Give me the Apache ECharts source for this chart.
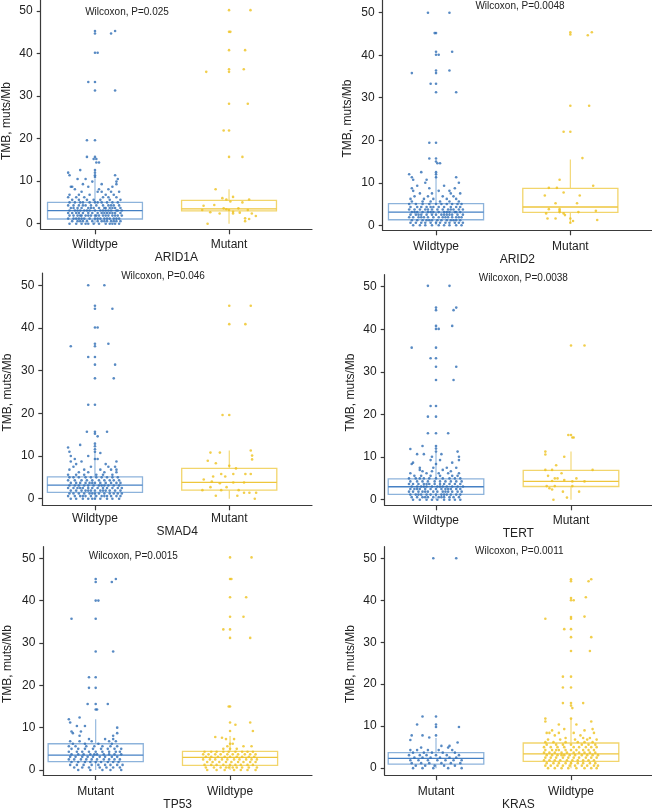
<!DOCTYPE html>
<html>
<head>
<meta charset="utf-8">
<script src="https://cdn.jsdelivr.net/npm/echarts@6/dist/echarts.min.js"></script>
<style>
html,body{margin:0;padding:0;background:#fff;}
#c{width:652px;height:812px;}
</style>
</head>
<body>
<div id="c"></div>
<script>
// ---------------- DATA ----------------
const genes = ['ARID1A', 'ARID2', 'SMAD4', 'TERT', 'TP53', 'KRAS'];
const groupLabels = [
  ['Wildtype', 'Mutant'], ['Wildtype', 'Mutant'], ['Wildtype', 'Mutant'],
  ['Wildtype', 'Mutant'], ['Mutant', 'Wildtype'], ['Mutant', 'Wildtype']
];
const pValues = ['0.025', '0.0048', '0.046', '0.0038', '0.0015', '0.0011'];
const yTicks = [0, 10, 20, 30, 40, 50];
const yTitle = 'TMB, muts/Mb';

// box stats per group: [lower whisker, Q1, median, Q3, upper whisker]
const arid1aBox = [[0, 1.1, 3.05, 5.0, 10.6], [0, 3.0, 3.5, 5.5, 8.1]];
const arid2Box  = [[0, 1.3, 3.1, 5.1, 12.0], [0.6, 3.05, 4.3, 8.7, 15.5]];
const smad4Box  = [[0, 1.5, 3.2, 5.1, 11.0], [0, 2.0, 3.8, 7.1, 11.3]];
const tertBox   = [[0, 1.25, 3.05, 4.9, 11.0], [0, 3.1, 4.3, 6.9, 11.3]];
const tp53Box   = [[0, 2.0, 3.5, 6.2, 12.0], [0, 1.1, 3.0, 4.4, 8.0]];
const krasBox   = [[0, 0.95, 2.35, 3.7, 7.2], [0, 1.6, 3.4, 6.0, 11.8]];

const arid1aWt = [
  [45.3, 0, 0.15], [44.7, 0, 0.12], [40.2, 0, 0.02], [33.3, -0.05, 0], [31.3, 0, 0.15],
  [19.6, -0.06, 0], [15.7, -0.06, 0], [15.2, -0.01, 0.01], [14.4, 0.01, 0.03],
  [12.6, 0, -0.11], [12.0, -0.2, 0], [11.4, -0.19, 0.15, 0], [11.0, 0],
  [10.5, -0.13, -0.07, 0.17], [9.9, 0.16, -0.02], [9.3, -0.09, 0.16, 0.05],
  [8.7, -0.18, -0.17, -0.05, 0.13], [8.1, -0.15, 0.03, 0.1],
  [7.5, -0.1, 0.02, 0.05, 0.12, 0.18], [6.8, -0.19, -0.12, -0.04, 0.08, 0.14],
  [6.2, -0.2, -0.08, 0.06, 0.1, 0.16, -0.14], [5.6, -0.17, -0.06, -0.01, 0.04, 0.11, 0.19, -0.12],
  [5.0, -0.19, -0.15, -0.09, -0.04, 0.0, 0.05, 0.09, 0.13, 0.17, -0.11, 0.02],
  [4.3, -0.2, -0.16, -0.12, -0.07, -0.03, 0.01, 0.06, 0.1, 0.14, 0.18, -0.09, 0.12],
  [3.7, -0.18, -0.13, -0.1, -0.05, -0.01, 0.03, 0.07, 0.11, 0.15, 0.19, -0.16, 0.08, 0.13, -0.03],
  [3.1, -0.19, -0.15, -0.11, -0.08, -0.04, 0.0, 0.04, 0.08, 0.12, 0.16, 0.2, -0.13, -0.06, 0.06, 0.1, 0.17],
  [2.5, -0.2, -0.17, -0.12, -0.09, -0.05, -0.02, 0.02, 0.05, 0.09, 0.13, 0.15, 0.19, -0.14, 0.07, 0.11],
  [1.9, -0.19, -0.16, -0.13, -0.1, -0.07, -0.03, 0.0, 0.03, 0.06, 0.1, 0.13, 0.17, 0.2, -0.05, 0.08, 0.15, -0.11, 0.01],
  [1.2, -0.2, -0.16, -0.12, -0.08, -0.04, 0.0, 0.04, 0.07, 0.11, 0.14, 0.18, -0.1, 0.02, 0.09, 0.16, -0.14],
  [0.6, -0.17, -0.13, -0.09, -0.06, -0.02, 0.02, 0.05, 0.09, 0.12, 0.16, 0.19, -0.11, 0.07, 0.14],
  [0.0, -0.19, -0.14, -0.1, -0.05, -0.01, 0.03, 0.08, 0.11, 0.15, 0.18, -0.07, 0.13]
];
const arid1aMut = [
  [50.2, 0, 0.16], [45.1, 0, 0.01], [40.8, 0, 0.12], [36.3, 0, 0.11], [35.7, -0.17, 0],
  [28.2, 0, 0.14], [21.9, -0.04, 0], [15.7, 0, 0.1], [8.1, -0.1], [6.3, 0.03], [6.0, -0.05],
  [5.7, -0.02, 0.15], [5.2, 0.01], [5.0, 0.1], [4.4, -0.11], [4.2, -0.19], [3.6, -0.04, 0.07],
  [3.4, -0.02], [3.2, 0.0, -0.2, 0.14], [2.8, 0.03], [2.7, -0.14], [2.6, 0.08],
  [2.4, -0.07, 0.17, 0.03], [1.8, 0.2], [1.25, 0.12], [1.1, 0.15], [0.6, 0.12], [0.0, -0.16]
];
const arid2Wt = [
  [50.0, -0.06, 0.1], [45.2, 0, -0.01], [40.8, 0, 0.12], [40.1, 0, 0.02], [36.4, 0, 0.1],
  [35.8, -0.18, 0], [33.3, -0.04, 0], [31.3, 0, 0.15], [19.4, -0.05, 0], [15.7, -0.05, 0],
  [15.0, 0], [14.6, 0.01, 0.03], [12.5, -0.11, 0], [12.0, -0.2, 0], [11.3, -0.18, 0.15, 0],
  [10.7, -0.17, -0.07], [10.0, 0.17, -0.08], [9.3, -0.14, 0.06], [8.7, -0.18, -0.05, 0.14],
  [8.1, -0.17, 0.02, 0.1], [7.5, -0.12, -0.03, 0.11, 0.18], [6.8, -0.16, -0.06, 0.05, 0.13],
  [6.2, -0.19, -0.09, -0.02, 0.08, 0.15], [5.6, -0.18, -0.1, -0.04, 0.03, 0.1, 0.17],
  [5.0, -0.2, -0.15, -0.1, -0.05, 0.0, 0.04, 0.08, 0.12, 0.16, 0.19],
  [4.3, -0.19, -0.14, -0.11, -0.07, -0.02, 0.02, 0.06, 0.11, 0.15, 0.18, -0.04],
  [3.7, -0.2, -0.16, -0.12, -0.08, -0.03, 0.01, 0.05, 0.09, 0.13, 0.17, 0.2, -0.06, 0.11],
  [3.1, -0.18, -0.14, -0.1, -0.06, -0.02, 0.02, 0.06, 0.1, 0.14, 0.18, -0.16, -0.04, 0.08, 0.15],
  [2.5, -0.19, -0.15, -0.11, -0.07, -0.03, 0.0, 0.04, 0.08, 0.12, 0.16, 0.2, -0.13, 0.06, 0.1],
  [1.9, -0.2, -0.17, -0.13, -0.09, -0.06, -0.02, 0.02, 0.05, 0.09, 0.12, 0.15, 0.19, -0.11, 0.07, 0.17],
  [1.2, -0.18, -0.14, -0.1, -0.07, -0.03, 0.01, 0.04, 0.08, 0.11, 0.15, 0.18, -0.05, 0.13],
  [0.6, -0.19, -0.15, -0.11, -0.08, -0.04, 0.0, 0.03, 0.07, 0.1, 0.14, 0.17, 0.2],
  [0.0, -0.17, -0.12, -0.08, -0.03, 0.02, 0.06, 0.1, 0.15, 0.19]
];
const arid2Mut = [
  [45.4, 0, 0.16], [44.9, 0], [44.7, 0.13], [28.1, 0, 0.14], [22.0, -0.05, 0], [15.8, 0.09],
  [10.7, -0.08], [9.3, 0.17], [8.8, -0.16, -0.1], [7.7, -0.05], [7.0, -0.19, 0.07],
  [5.2, -0.11, 0.05], [3.8, -0.16, -0.08], [3.4, -0.08, 0.19], [3.1, 0.06, -0.08],
  [2.8, -0.18, -0.05], [2.4, -0.04], [1.6, -0.17, -0.11, 0.0], [1.25, 0.2], [1.0, 0.02], [0.6, 0.0]
];
const smad4Wt = [
  [50.0, -0.05, 0.07], [45.2, 0], [44.5, 0, 0.13], [40.1, 0, 0.02], [36.3, 0, 0.1],
  [35.7, -0.18, 0], [33.2, -0.05, 0], [31.4, 0, 0.15], [28.2, 0, 0.14], [22.0, -0.05, 0],
  [15.7, -0.06, 0, 0.09], [15.2, 0], [14.6, 0.02], [12.9, 0], [12.6, -0.11], [12.3, 0],
  [12.0, -0.2], [11.6, 0], [11.0, -0.19, 0], [10.7, 0.04], [10.0, -0.05, -0.18],
  [9.3, -0.15, 0.0, 0.02], [8.7, -0.18, -0.1, 0.16], [8.1, -0.14, 0.08],
  [7.5, -0.16, -0.03, 0.1, 0.15], [6.8, -0.19, -0.08, 0.04, 0.12, 0.16], [6.2, -0.12, -0.05, 0.07, 0.16],
  [5.6, -0.2, -0.14, -0.08, 0.01, 0.06, 0.13],
  [5.0, -0.19, -0.16, -0.12, -0.07, -0.03, 0.01, 0.05, 0.09, 0.13, 0.17],
  [4.3, -0.2, -0.15, -0.1, -0.06, -0.02, 0.03, 0.07, 0.11, 0.14, 0.18],
  [3.7, -0.18, -0.14, -0.11, -0.07, -0.04, 0.0, 0.04, 0.08, 0.12, 0.16, 0.19, -0.02],
  [3.1, -0.19, -0.15, -0.12, -0.08, -0.05, -0.01, 0.03, 0.07, 0.1, 0.14, 0.18, 0.05],
  [2.5, -0.2, -0.16, -0.13, -0.09, -0.05, -0.02, 0.02, 0.06, 0.09, 0.13, 0.17, 0.2, -0.11],
  [1.9, -0.18, -0.14, -0.1, -0.07, -0.03, 0.0, 0.04, 0.08, 0.11, 0.15, 0.19, -0.05, 0.06],
  [1.2, -0.19, -0.16, -0.12, -0.08, -0.04, 0.0, 0.03, 0.07, 0.11, 0.14, 0.17, 0.2, -0.02],
  [0.6, -0.2, -0.15, -0.11, -0.07, -0.03, 0.01, 0.05, 0.09, 0.12, 0.16, 0.19, -0.09, 0.07],
  [0.0, -0.18, -0.14, -0.09, -0.05, 0.0, 0.04, 0.09, 0.13, 0.18, -0.02]
];
const smad4Mut = [
  [45.2, 0, 0.16], [40.9, 0, 0.12], [19.6, -0.05, 0], [11.3, 0.16], [10.8, -0.14, -0.07],
  [10.1, 0.17], [9.2, 0.17], [8.9, -0.16], [8.3, -0.1], [7.7, 0], [7.1, 0.05],
  [5.8, -0.06, 0.03, 0.12, 0.16], [5.2, -0.12, -0.03], [4.5, -0.19], [4.0, -0.13],
  [3.8, 0.03, 0.11], [3.6, -0.07], [2.7, -0.14, -0.02], [2.0, -0.2, -0.06, 0.07],
  [1.4, 0.11, 0.15, 0.2], [0.7, -0.1, 0.06], [0.0, 0.19]
];
const tertWt = [
  [50.2, -0.06, 0.1], [45.1, 0, 0.15], [44.5, 0, 0.13], [40.8, 0, 0.12], [40.1, 0, 0.02],
  [35.7, -0.18, 0], [33.2, -0.04, 0], [31.2, 0, 0.15], [28.1, 0, 0.13], [22.0, -0.04, 0],
  [19.5, -0.06, 0], [15.6, -0.06, 0, 0.09], [12.6, -0.1, 0], [12.0, 0], [11.9, -0.19],
  [11.3, 0.16, 0], [10.7, -0.14, -0.09, 0.04], [10.1, 0.17, -0.03], [9.3, 0.17, -0.04, 0.03],
  [8.7, -0.17, 0.12], [8.4, -0.18, 0.0], [7.5, -0.12, -0.02, 0.08, 0.15], [7.0, -0.12, 0.05],
  [6.7, -0.1, 0.11, -0.03], [6.2, -0.19, -0.07, 0.02, 0.09, 0.17],
  [5.6, -0.16, -0.11, -0.04, 0.03, 0.12, 0.16],
  [5.0, -0.2, -0.15, -0.09, -0.05, 0.0, 0.05, 0.1, 0.14, 0.18, -0.12],
  [4.3, -0.19, -0.14, -0.1, -0.06, -0.01, 0.03, 0.07, 0.11, 0.15, 0.19],
  [3.7, -0.2, -0.17, -0.13, -0.09, -0.05, -0.01, 0.03, 0.06, 0.1, 0.14, 0.18, -0.07],
  [3.1, -0.18, -0.14, -0.11, -0.07, -0.03, 0.01, 0.05, 0.08, 0.12, 0.16, 0.2, -0.09, 0.03],
  [2.5, -0.19, -0.16, -0.12, -0.08, -0.04, 0.0, 0.04, 0.07, 0.11, 0.15, 0.18, -0.14, 0.09],
  [1.9, -0.2, -0.17, -0.13, -0.1, -0.06, -0.02, 0.01, 0.05, 0.09, 0.12, 0.16, 0.19, -0.08, 0.07],
  [1.2, -0.19, -0.15, -0.11, -0.07, -0.04, 0.0, 0.04, 0.08, 0.11, 0.15, 0.18, -0.13, 0.06],
  [0.6, -0.18, -0.14, -0.1, -0.06, -0.02, 0.02, 0.06, 0.1, 0.13, 0.17, -0.08, 0.04],
  [0.0, -0.17, -0.12, -0.07, -0.03, 0.01, 0.06, 0.1, 0.14, 0.18]
];
const tertMut = [
  [36.2, 0, 0.1], [15.2, -0.02, 0], [14.6, 0.01, 0.02], [11.3, -0.19], [10.6, -0.19],
  [10.1, -0.05], [8.1, -0.11], [7.0, -0.19, -0.14, 0.16], [6.2, -0.07], [5.6, -0.17],
  [5.0, -0.12, 0.04, -0.1], [4.6, -0.05], [4.4, -0.14], [4.3, 0.01, 0.1],
  [3.2, -0.18, -0.12, 0.01], [2.7, -0.16], [2.4, -0.14], [1.9, -0.06, 0.06], [0.5, -0.03], [0.0, -0.13]
];
const tp53Mut = [
  [45.1, 0, 0.15], [44.4, 0, 0.12], [40.0, 0, 0.02], [35.7, -0.18, 0], [28.0, 0, 0.13],
  [21.9, -0.05, 0], [19.4, -0.05, 0], [15.6, -0.06, 0, 0.09], [14.3, 0, 0.01],
  [12.4, -0.12], [12.0, -0.2], [11.2, -0.19], [10.4, -0.14, -0.08], [10.0, 0.16],
  [9.1, -0.11, -0.18], [8.7, -0.17, 0.16], [8.1, -0.12, 0.13], [7.3, 0.07, 0.13, -0.05],
  [6.8, -0.19, -0.12, -0.03, 0.1, 0.15], [6.2, -0.17, -0.08, 0.02, 0.12],
  [5.6, -0.2, -0.15, -0.07, -0.01, 0.05, 0.11, 0.16],
  [5.0, -0.18, -0.13, -0.08, -0.02, 0.04, 0.09, 0.14, 0.19],
  [4.3, -0.2, -0.14, -0.1, -0.05, 0.0, 0.05, 0.1, 0.15, 0.18],
  [3.7, -0.18, -0.13, -0.09, -0.04, 0.01, 0.06, 0.1, 0.14, 0.19, -0.01],
  [3.1, -0.19, -0.15, -0.1, -0.06, -0.02, 0.03, 0.07, 0.12, 0.16],
  [2.5, -0.2, -0.16, -0.11, -0.07, -0.03, 0.01, 0.06, 0.1, 0.14, 0.18],
  [1.9, -0.18, -0.13, -0.08, -0.04, 0.0, 0.04, 0.09, 0.13, 0.17],
  [1.2, -0.19, -0.14, -0.09, -0.03, 0.02, 0.07, 0.11, 0.16, 0.2],
  [0.6, -0.16, -0.1, -0.05, 0.03, 0.08, 0.13, 0.18],
  [0.0, -0.13, -0.04, 0.05, 0.11, 0.19]
];
const tp53Wt = [
  [50.2, 0, 0.16], [45.1, 0, 0.01], [40.8, 0, 0.12], [36.2, 0, 0.1], [33.2, -0.05, 0],
  [31.2, 0, 0.15], [15.0, -0.01, 0], [11.2, 0, 0.15], [10.7, 0.04], [9.2, 0, 0.17],
  [7.8, -0.11], [7.6, -0.06], [7.3, -0.03, 0.03], [6.2, 0.0, 0.02], [5.6, -0.02, 0.1, 0.16],
  [5.0, -0.05, 0.0, 0.05],
  [4.3, -0.19, -0.14, -0.1, -0.05, -0.01, 0.04, 0.09, 0.13, 0.17],
  [3.7, -0.2, -0.16, -0.11, -0.07, -0.02, 0.02, 0.06, 0.11, 0.15, 0.19],
  [3.1, -0.18, -0.14, -0.09, -0.04, 0.0, 0.05, 0.09, 0.14, 0.18],
  [2.5, -0.2, -0.15, -0.11, -0.06, -0.02, 0.03, 0.07, 0.12, 0.16, 0.2],
  [1.9, -0.17, -0.13, -0.08, -0.03, 0.01, 0.06, 0.1, 0.15, 0.19],
  [1.2, -0.19, -0.14, -0.1, -0.05, 0.0, 0.04, 0.08, 0.13, 0.17],
  [0.6, -0.18, -0.12, -0.07, -0.03, -0.01, 0.02, 0.05, 0.09, 0.14, 0.2],
  [0.0, -0.17, -0.1, -0.04, 0.03, 0.08, 0.13, 0.19]
];
const krasMut = [
  [50.0, -0.02, 0.15], [12.3, -0.1, 0], [10.4, -0.14, 0], [9.8, 0, 0.17],
  [7.8, -0.18, -0.1, 0], [7.3, -0.05], [6.7, -0.19], [6.1, 0.16], [5.3, 0.04, 0.1],
  [4.9, -0.11, 0.09], [4.3, -0.19, -0.14, -0.06, 0.02, 0.12], [3.7, -0.17, -0.09, -0.03, 0.05, 0.14],
  [3.1, -0.2, -0.12, -0.07, 0.0, 0.08, 0.17], [2.5, -0.16, -0.1, -0.04, 0.03, 0.1, 0.15],
  [1.9, -0.19, -0.13, -0.06, 0.01, 0.07, 0.13, 0.19], [1.2, -0.18, -0.11, -0.05, 0.04, 0.11, 0.18],
  [0.6, -0.15, -0.08, -0.01, 0.06, 0.14], [0.0, -0.17, -0.1, -0.02, 0.09, 0.19]
];
const krasWt = [
  [45.0, 0, 0.15], [44.5, 0, 0.13], [40.7, 0.11], [40.5, 0], [40.0, 0, 0.02], [36.1, 0.1],
  [36.0, 0], [35.6, -0.19, 0], [33.1, -0.05, 0], [31.2, 0, 0.15], [27.9, 0, 0.14],
  [21.8, -0.06, 0], [19.2, -0.06, 0], [15.5, -0.06, 0, 0.09], [14.9, 0], [14.3, 0.01],
  [11.8, -0.19, 0], [11.1, -0.19, 0.15], [10.4, -0.09, 0.04], [9.3, -0.05, 0.16], [9.0, -0.14, 0.1],
  [8.4, -0.18, -0.16, -0.09, 0.02, 0.17], [7.8, -0.12, 0.07], [7.2, -0.04, 0.09, 0.14],
  [6.8, -0.17, -0.08, 0.03, 0.12, 0.19], [6.2, -0.19, -0.13, -0.04, 0.05, 0.1, 0.16],
  [5.6, -0.18, -0.11, -0.06, 0.0, 0.08, 0.13, 0.18],
  [5.0, -0.2, -0.15, -0.1, -0.05, 0.02, 0.06, 0.11, 0.15, 0.19],
  [4.3, -0.19, -0.14, -0.09, -0.04, 0.0, 0.04, 0.09, 0.13, 0.17, -0.11],
  [3.7, -0.2, -0.16, -0.12, -0.07, -0.03, 0.02, 0.06, 0.1, 0.14, 0.18],
  [3.1, -0.18, -0.14, -0.1, -0.05, -0.01, 0.03, 0.08, 0.12, 0.16, 0.2, -0.07],
  [2.5, -0.19, -0.15, -0.11, -0.06, -0.02, 0.02, 0.06, 0.11, 0.15, 0.19],
  [1.9, -0.2, -0.16, -0.12, -0.08, -0.03, 0.01, 0.05, 0.09, 0.13, 0.17],
  [1.2, -0.18, -0.13, -0.09, -0.04, 0.0, 0.05, 0.09, 0.14, 0.18],
  [0.6, -0.19, -0.15, -0.1, -0.06, -0.01, 0.03, 0.08, 0.12, 0.17, 0.2],
  [0.0, -0.17, -0.12, -0.07, -0.02, 0.04, 0.1, 0.15, 0.19]
];

const groupPoints = [
  [arid1aWt, arid1aMut], [arid2Wt, arid2Mut], [smad4Wt, smad4Mut],
  [tertWt, tertMut], [tp53Mut, tp53Wt], [krasMut, krasWt]
];
const boxStats = [arid1aBox, arid2Box, smad4Box, tertBox, tp53Box, krasBox];

// ---------------- LAYOUT / STYLE ----------------
const FONT = '"Liberation Sans", Arial, Helvetica, sans-serif';
const TXT = '#222';
const AX = '#3a3a3a';
const pointColors = ['#2E6DB4', '#EEC21F'];
const boxColors = ['#8DB3DB', '#F2D56C'];
const medianColors = ['#4580C4', '#EEC63C'];
const BOX_HALF = 0.354;

const layout = [
  {left: 40.7, top: 0,     width: 271.3, height: 229.3, x: [0.595, 2.619], y: [-1.32, 52.59], lm: 9,  ng: 20.5, wil: [127, 12],    yt: [7, 121]},
  {left: 382.7, top: 0,    width: 269.3, height: 230.3, x: [0.603, 2.608], y: [-1.18, 52.99], lm: 10, ng: 21,   wil: [520, 6],     yt: [347.7, 118.5]},
  {left: 42.3, top: 273,   width: 269.7, height: 232.3, x: [0.608, 2.616], y: [-1.55, 52.88], lm: 7,  ng: 17.5, wil: [163, 276],   yt: [7.3, 392.5]},
  {left: 384.7, top: 274.7,width: 267.3, height: 230.6, x: [0.62, 2.6],    y: [-1.31, 52.82], lm: 9,  ng: 20,   wil: [523.3, 278.3], yt: [351, 392.5]},
  {left: 43.3, top: 546.7, width: 268.7, height: 229.3, x: [0.61, 2.61],   y: [-1.18, 52.73], lm: 11, ng: 24,   wil: [133.3, 556.7], yt: [7.3, 664]},
  {left: 384.7, top: 546.7,width: 267.3, height: 230.6, x: [0.62, 2.6],    y: [-1.65, 52.74], lm: 11, ng: 23.5, wil: [519.3, 551.7], yt: [351, 664]}
];

// ---------------- BUILD ----------------
const grids = [], xAxes = [], yAxes = [], series = [], graphics = [];

function rowsToPoints(rows, center) {
  const out = [];
  rows.forEach(r => { for (let k = 1; k < r.length; k++) out.push([center + r[k], r[0]]); });
  return out;
}

genes.forEach((gene, i) => {
  const L = layout[i];
  grids.push({left: L.left, top: L.top, width: L.width, height: L.height, containLabel: false});
  const labels = groupLabels[i];
  xAxes.push({
    gridIndex: i, type: 'value', min: L.x[0], max: L.x[1],
    axisLine: {show: true, onZero: false, lineStyle: {color: AX, width: 1.2}},
    axisTick: {show: true, customValues: [1, 2], length: 5, lineStyle: {color: AX, width: 1.2}},
    axisLabel: {show: true, customValues: [1, 2], formatter: v => labels[Math.round(v) - 1],
      fontSize: 12, color: TXT, fontFamily: FONT, margin: L.lm},
    splitLine: {show: false},
    name: gene, nameLocation: 'middle', nameGap: L.ng,
    nameTextStyle: {fontSize: 12, color: TXT, fontFamily: FONT}
  });
  yAxes.push({
    gridIndex: i, type: 'value', min: L.y[0], max: L.y[1],
    axisLine: {show: true, onZero: false, lineStyle: {color: AX, width: 1.2}},
    axisTick: {show: true, customValues: yTicks, length: 4, lineStyle: {color: AX, width: 1.2}},
    axisLabel: {show: true, customValues: yTicks, fontSize: 12, color: TXT, fontFamily: FONT, margin: 8},
    splitLine: {show: false}
  });

  const boxes = boxStats[i];
  series.push({
    type: 'custom', xAxisIndex: i, yAxisIndex: i, z: 1, silent: true,
    data: boxes.map((b, g) => [g + 1].concat(b)),
    encode: {x: 0, y: [1, 2, 3, 4, 5]},
    renderItem: function (params, api) {
      const g = params.dataIndex;
      const xc = api.value(0);
      const lo = api.coord([xc, api.value(1)]);
      const q1 = api.coord([xc - BOX_HALF, api.value(2)]);
      const md = api.coord([xc - BOX_HALF, api.value(3)]);
      const q3 = api.coord([xc - BOX_HALF, api.value(4)]);
      const hi = api.coord([xc, api.value(5)]);
      const right = api.coord([xc + BOX_HALF, api.value(3)]);
      const cx = lo[0];
      const bc = boxColors[g], mc = medianColors[g];
      return {
        type: 'group',
        children: [
          {type: 'line', shape: {x1: cx, y1: q3[1], x2: cx, y2: hi[1]}, style: {stroke: bc, lineWidth: 1.1}},
          {type: 'line', shape: {x1: cx, y1: q1[1], x2: cx, y2: lo[1]}, style: {stroke: bc, lineWidth: 1.1}},
          {type: 'rect', shape: {x: q1[0], y: q3[1], width: right[0] - q1[0], height: q1[1] - q3[1]},
            style: {fill: 'none', stroke: bc, lineWidth: 1.3}},
          {type: 'line', shape: {x1: md[0], y1: md[1], x2: right[0], y2: md[1]}, style: {stroke: mc, lineWidth: 1.3}}
        ]
      };
    }
  });

  groupPoints[i].forEach((rows, g) => {
    series.push({
      type: 'scatter', xAxisIndex: i, yAxisIndex: i, z: 3, silent: true,
      symbol: 'circle', symbolSize: 2.6,
      itemStyle: {color: pointColors[g]},
      data: rowsToPoints(rows, g + 1)
    });
  });

  graphics.push({
    type: 'text', x: L.wil[0], y: L.wil[1], silent: true,
    style: {text: 'Wilcoxon, P=' + pValues[i], fontSize: 10, fontFamily: FONT, fill: TXT,
      align: 'center', verticalAlign: 'middle', textAlign: 'center', textVerticalAlign: 'middle'}
  });
  graphics.push({
    type: 'text', x: L.yt[0], y: L.yt[1], rotation: Math.PI / 2, silent: true,
    style: {text: yTitle, fontSize: 12, fontFamily: FONT, fill: TXT,
      align: 'center', verticalAlign: 'middle', textAlign: 'center', textVerticalAlign: 'middle'}
  });
});

const chart = echarts.init(document.getElementById('c'), null, {renderer: 'canvas'});
chart.setOption({
  animation: false,
  backgroundColor: '#ffffff',
  grid: grids, xAxis: xAxes, yAxis: yAxes,
  series: series,
  graphic: graphics
});
</script>
</body>
</html>
